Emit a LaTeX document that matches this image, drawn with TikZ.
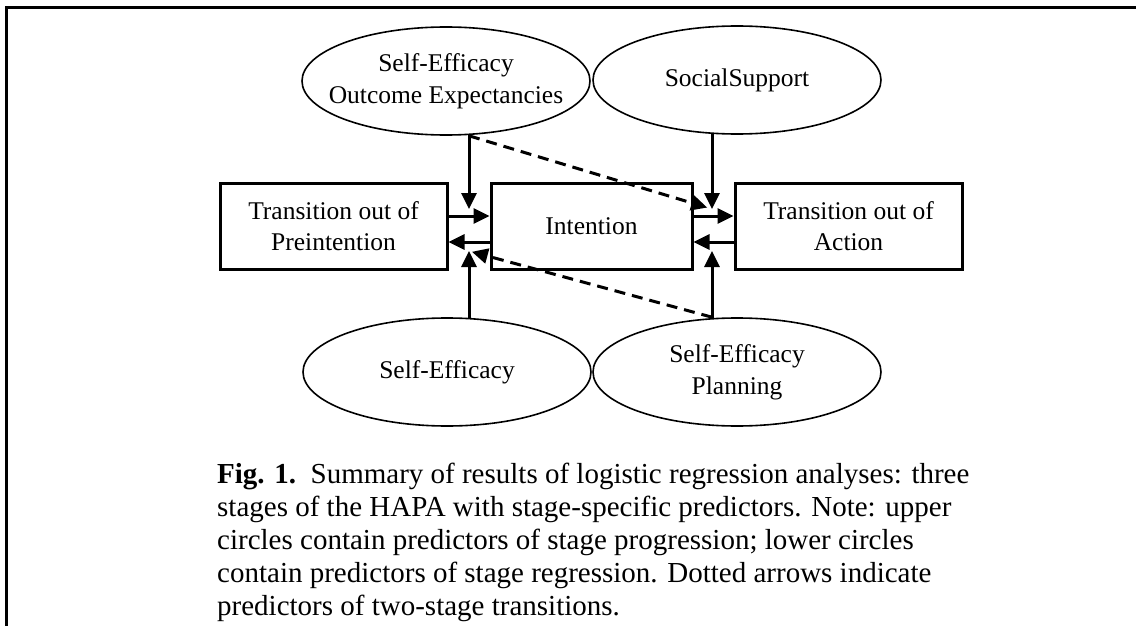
\documentclass[tikz,border=0pt]{standalone}
\usepackage{fontspec}
\setmainfont{Liberation Serif}
\usetikzlibrary{shapes.geometric,arrows.meta}
\begin{document}
\begin{tikzpicture}[x=1pt,y=-1pt,
  oval/.style={ellipse,draw,line width=1.6pt,minimum width=288pt,minimum height=108pt,
    inner sep=0pt},
  ovaltext/.style={align=center,inner sep=0pt,font=\fontsize{25.5}{32}\selectfont},
  stagebox/.style={rectangle,draw,line width=3pt,minimum height=86pt,inner sep=0pt,
    align=center,font=\fontsize{25.5}{31}\selectfont},
  arr/.style={line width=3pt,-{Triangle[length=16pt,width=15pt]}},
  dasharr/.style={arr,dash pattern=on 11pt off 7pt},
  capline/.style={anchor=base west,inner sep=0pt,font=\fontsize{29}{33}\selectfont}]
\useasboundingbox (0,0) rectangle (1136,626);

% outer frame (top and left edges)
\draw[line width=2.7pt] (1136,7.3) -- (6.8,7.3) -- (6.8,626);

% predictor ovals
\node[oval,label={[ovaltext]center:Self-Efficacy\\Outcome Expectancies}] (seoe) at (446,81) {};
\node[oval,label={[ovaltext]center:SocialSupport}] (ss) at (737,80) {};
\node[oval,label={[ovaltext]center:Self-Efficacy}] (se) at (447,372) {};
\node[oval,label={[ovaltext]center:Self-Efficacy\\Planning}] (sep) at (737,372) {};

% stages
\node[stagebox,minimum width=227pt] (pre) at (333.5,226) {Transition out of\\Preintention};
\node[stagebox,minimum width=201pt] (int) at (591.5,226) {Intention};
\node[stagebox,minimum width=227pt] (act) at (848.5,226) {Transition out of\\Action};

% meeting points of the predictor arrows
\coordinate (upL) at (469,209);
\coordinate (upR) at (712,209);
\coordinate (loL) at (469,251);
\coordinate (loR) at (712,251);
\coordinate (rowA) at (0,216);
\coordinate (rowB) at (0,242);

% stage transitions
\draw[arr] (pre.east |- rowA) -- (int.west |- rowA);
\draw[arr] (int.west |- rowB) -- (pre.east |- rowB);
\draw[arr] (int.east |- rowA) -- (act.west |- rowA);
\draw[arr] (act.west |- rowB) -- (int.east |- rowB);

% predictors
\draw[arr,shorten <=-1.5pt] (seoe.south -| upL) -- (upL);
\draw[arr,shorten <=-1.5pt] (ss.south -| upR) -- (upR);
\draw[arr,shorten <=-1.5pt] (se.north -| loL) -- (loL);
\draw[arr,shorten <=-1.5pt] (sep.north -| loR) -- (loR);

% two-stage predictors
\draw[dasharr,shorten >=5pt] (seoe.south -| upL) -- (upR);
\draw[dasharr,shorten >=3pt] (sep.north -| loR) -- (loL);

% caption
\node[capline] (cap1) at (217,483) {\textbf{Fig. 1.}\enspace Summary of results of logistic regression analyses: three};
\node[capline] (cap2) at (217,516) {stages of the HAPA with stage-specific predictors. Note: upper};
\node[capline] (cap3) at (217,549) {circles contain predictors of stage progression; lower circles};
\node[capline] (cap4) at (217,582) {contain predictors of stage regression. Dotted arrows indicate};
\node[capline] (cap5) at (217,615) {predictors of two-stage transitions.};
\end{tikzpicture}
\end{document}
